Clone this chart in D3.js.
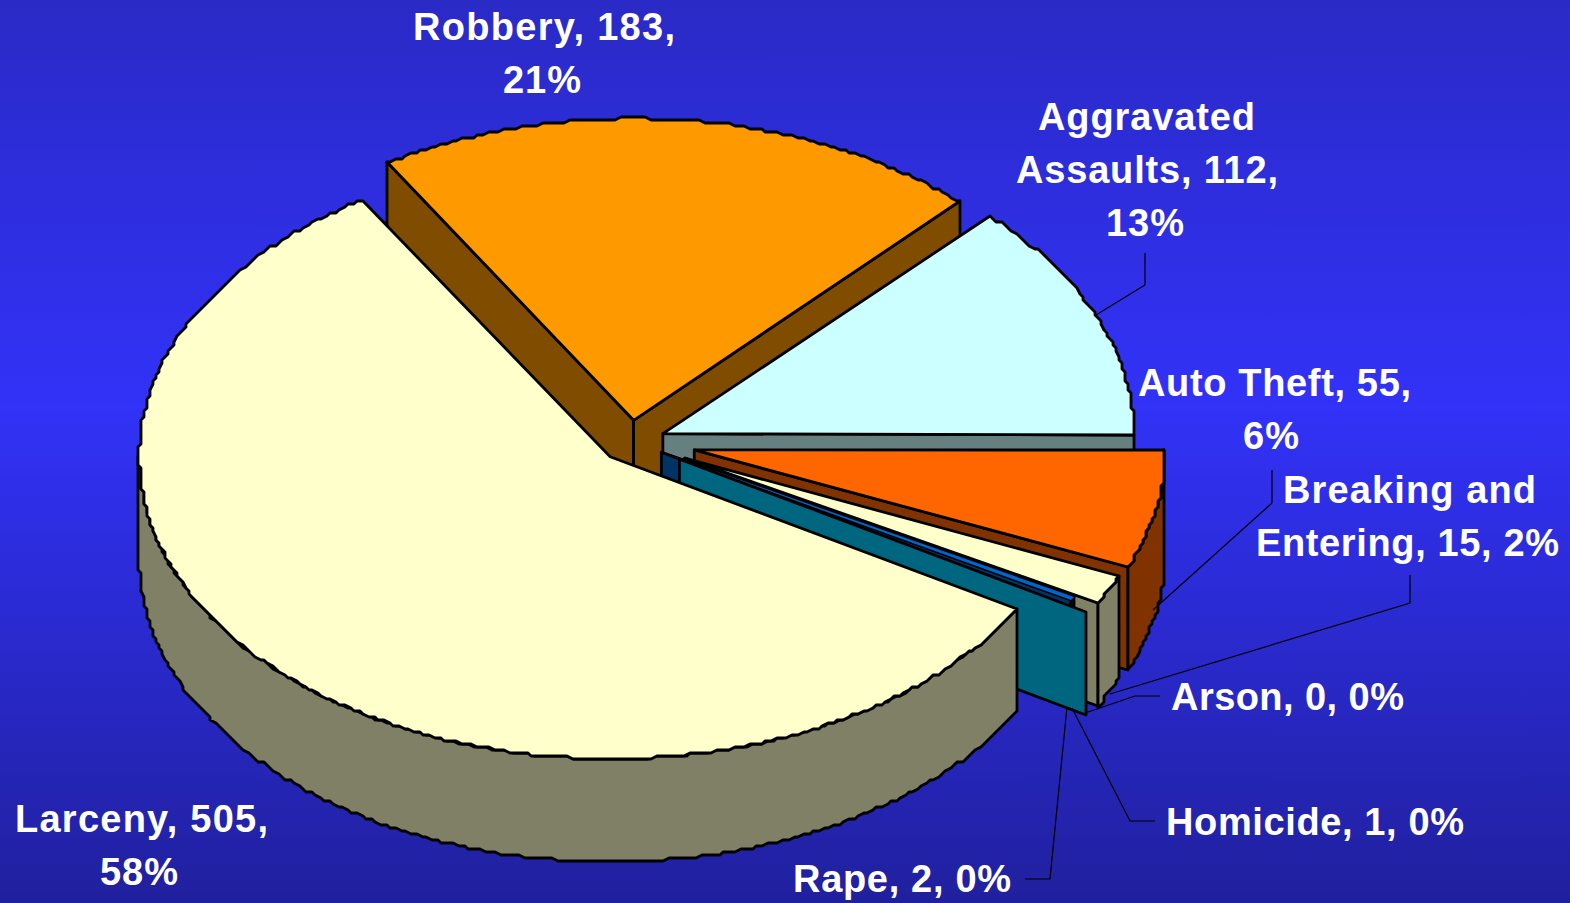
<!DOCTYPE html>
<html>
<head>
<meta charset="utf-8">
<script src="https://cdn.jsdelivr.net/npm/d3@7"></script>
<style>
  html, body { margin: 0; padding: 0; background: #2a2ac6; }
  svg { display: block; }
  text { font-family: "Liberation Sans", Arial, sans-serif; font-weight: bold; font-size: 38px; fill: #fff; }
</style>
</head>
<body>
<div id="chart"></div>
<script>
// values
var categories = ["Auto Theft", "Breaking and Entering", "Arson", "Homicide", "Rape", "Larceny", "Robbery", "Aggravated Assaults"];
var crimeCounts = [55, 15, 0, 1, 2, 505, 183, 112];
var crimePercents = ["6%", "2%", "0%", "0%", "0%", "58%", "21%", "13%"];

// how far each slice is pulled out of the pie
var explode = [63, 58, 0, 33, 54, 32, 34, 33];
var nudgeX = [0, 0, 0, 0, 0, 0, -2.5, 0];
var topColors = ["#ff6600", "#ffffcc", "#ffffcc", "#0066cc", null, "#ffffcc", "#ff9900", "#ccffff"];
var wallColors = ["#803300", "#808066", "#808066", "#003366", "#006680", "#808066", "#804d00", "#668080"];

var svgWidth = 1570;
var svgHeight = 903;

// pie shape
var cx = 632.5;
var cy = 442;
var rx = 471;
var ry = 302;
var depth = 103;

// the original arcs are chunky, keep them a bit stepped
var snap = 3;

// label text broken in lines: text, centre x, baseline, width
var labels = [
  ["Auto Theft, 55,", 1274.5, 396, 273],
  ["6%", 1271, 449, 56],
  ["Breaking and", 1409.5, 503, 253],
  ["Entering, 15, 2%", 1407.5, 556, 303],
  ["Arson, 0, 0%", 1287.5, 710, 233],
  ["Homicide, 1, 0%", 1315, 835, 298],
  ["Rape, 2, 0%", 902, 892, 218],
  ["Larceny, 505,", 141.5, 832, 253],
  ["58%", 139, 885, 78],
  ["Robbery, 183,", 544, 40, 262],
  ["21%", 542, 93, 78],
  ["Aggravated", 1146.5, 130, 217],
  ["Assaults, 112,", 1147, 183, 262],
  ["13%", 1145, 236, 78]
];

// thin leader lines
var leaders = [
  [[1145, 253], [1145, 285], [1096, 315]],
  [[1272, 470], [1272, 503], [1153, 610]],
  [[1410, 575], [1410, 603], [1110, 694]],
  [[1160, 696], [1135, 696], [1085, 713]],
  [[1155, 821], [1130, 821], [1072, 708]],
  [[1025, 879], [1050, 879], [1067, 707]]
];

var svg = d3.select("#chart")
  .append("svg")
  .attr("width", svgWidth)
  .attr("height", svgHeight);

var grad = svg.append("defs").append("linearGradient")
  .attr("id", "bg")
  .attr("x1", 0).attr("y1", 0).attr("x2", 0).attr("y2", 1);
grad.append("stop").attr("offset", "0%").attr("stop-color", "#2a2ac6");
grad.append("stop").attr("offset", "45%").attr("stop-color", "#3232f8");
grad.append("stop").attr("offset", "100%").attr("stop-color", "#20209e");

svg.append("rect")
  .attr("width", svgWidth)
  .attr("height", svgHeight)
  .attr("fill", "url(#bg)");

var pie = d3.pie()
  .sort(null)
  .startAngle(Math.PI / 2)
  .endAngle(Math.PI / 2 + 2 * Math.PI);

var slices = pie(crimeCounts);
var line = d3.line();

// point on the flat ellipse, angle clockwise from the top
function rim(c, a, drop) {
  return [
    Math.round((c[0] + rx * Math.sin(a)) / snap) * snap,
    Math.round((c[1] - ry * Math.cos(a) + drop) / snap) * snap
  ];
}

function arcPoints(c, a0, a1, drop) {
  var n = Math.max(1, Math.ceil(Math.abs(a1 - a0) / 0.012));
  return d3.range(n + 1).map(function(i) {
    return rim(c, a0 + (a1 - a0) * i / n, drop);
  });
}

function centerOf(d, i) {
  var mid = (d.startAngle + d.endAngle) / 2;
  return [
    cx + nudgeX[i] + explode[i] * Math.sin(mid),
    cy - explode[i] * Math.cos(mid) * ry / rx
  ];
}

function drawFace(points, fill, fillOnTop) {
  svg.append("path")
    .attr("d", line(points) + "Z")
    .attr("fill", fill)
    .attr("stroke", "#000")
    .attr("stroke-width", 2.8)
    .attr("stroke-linejoin", "round")
    .style("paint-order", fillOnTop ? "stroke" : "normal");
}

function drawWall(c, a, fill) {
  var p = rim(c, a, 0);
  drawFace([c, p, [p[0], p[1] + depth], [c[0], c[1] + depth]], fill);
}

// back to front
var drawOrder = [6, 7, 0, 1, 2, 3, 4, 5];
var tau = 2 * Math.PI;

drawOrder.forEach(function(i) {
  // arson is 0 so nothing to draw
  if (crimeCounts[i] === 0) return;

  var d = slices[i];
  var c = centerOf(d, i);
  var a0 = d.startAngle;
  var a1 = d.endAngle;
  var start = a0 % tau;
  var end = a1 % tau;

  if (start > Math.PI) drawWall(c, a0, wallColors[i]);
  if (end < Math.PI) drawWall(c, a1, wallColors[i]);

  // the rape top and rim are too thin to show in the picture
  if (!topColors[i]) return;

  // outer wall, only the part facing the viewer
  var w0 = Math.max(a0, Math.PI / 2);
  var w1 = Math.min(a1, 3 * Math.PI / 2);
  if (a0 < 3 * Math.PI / 2 && w1 > w0) {
    drawFace(
      arcPoints(c, w0, w1, 0).concat(arcPoints(c, w1, w0, depth)),
      wallColors[i]
    );
  }

  // homicide is only a sliver so its fill goes over the outline
  drawFace([c].concat(arcPoints(c, a0, a1, 0)), topColors[i], a1 - a0 < 0.02);
});

svg.selectAll(".leader")
  .data(leaders)
  .enter()
  .append("path")
  .attr("class", "leader")
  .attr("d", d => line(d))
  .attr("fill", "none")
  .attr("stroke", "#000")
  .attr("stroke-width", 1.2);

svg.selectAll(".label")
  .data(labels)
  .enter()
  .append("text")
  .attr("class", "label")
  .attr("x", d => d[1])
  .attr("y", d => d[2])
  .attr("text-anchor", "middle")
  .attr("textLength", d => d[3])
  .attr("lengthAdjust", "spacing")
  .text(d => d[0]);
</script>
</body>
</html>
